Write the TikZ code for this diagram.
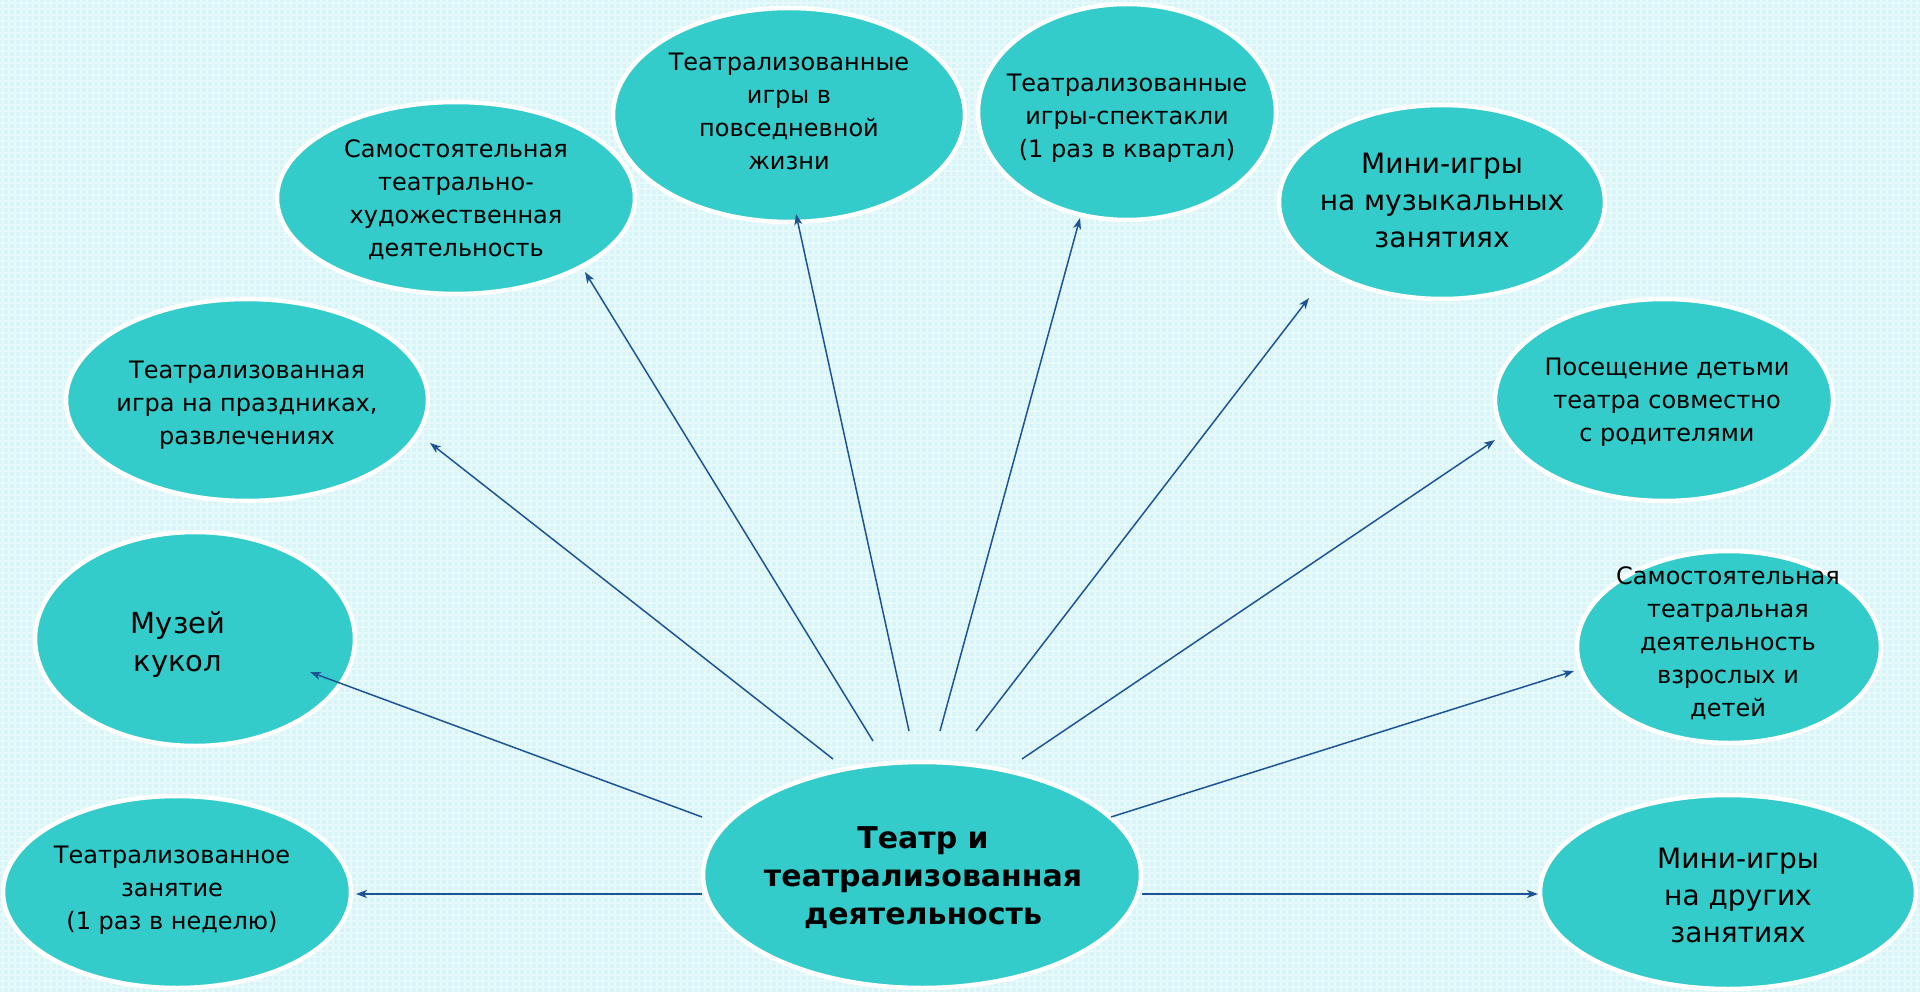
\documentclass[tikz,border=0pt]{standalone}
\usepackage{fontspec}
\setmainfont{DejaVu Sans}
\usetikzlibrary{shapes.geometric,arrows.meta}
\definecolor{bg}{HTML}{D8F4F7}
\definecolor{bgl}{HTML}{E6FAFC}
\definecolor{tq}{HTML}{33CCCA}
\definecolor{arrc}{HTML}{1F5494}
\tikzset{
 bub/.style={ellipse, fill=tq, draw=white, line width=4.5pt, inner sep=0pt},
 txt/.style={align=center, font=\fontsize{24}{33}\selectfont, text=black, inner sep=0pt},
 bigtxt/.style={align=center, font=\fontsize{28}{37}\selectfont, text=black, inner sep=0pt},
 link/.style={draw=arrc, line width=1.5pt, -{Stealth[length=11pt,width=8pt,inset=3pt]}},
 gridline/.style={draw=bgl, line width=1.5pt}
}
\begin{document}
\begin{tikzpicture}[x=1pt,y=-1pt]
\useasboundingbox (0,0) rectangle (1920,992);
\fill[bg] (0,0) rectangle (1920,992);
\foreach \i in {3,9,...,1920} {\draw[gridline] (\i,0) -- (\i,992);}
\foreach \j in {3,9,...,992} {\draw[gridline] (0,\j) -- (1920,\j);}

% outer bubbles
\node[bub, minimum width=348pt, minimum height=192pt] (n2) at (177,892) {};
\node[bub, minimum width=320pt, minimum height=214pt] (n3) at (195,639) {};
\node[bub, minimum width=362pt, minimum height=202pt] (n4) at (247,400) {};
\node[bub, minimum width=358pt, minimum height=192pt] (n5) at (456,198) {};
\node[bub, minimum width=352pt, minimum height=214pt] (n6) at (789,115) {};
\node[bub, minimum width=298pt, minimum height=216pt] (n7) at (1127,112) {};
\node[bub, minimum width=326pt, minimum height=194pt] (n8) at (1442,202) {};
\node[bub, minimum width=338pt, minimum height=202pt] (n9) at (1664,400) {};
\node[bub, minimum width=304pt, minimum height=192pt] (n10) at (1729,647) {};
\node[bub, minimum width=376pt, minimum height=194pt] (n11) at (1728,892) {};
\node[bub, minimum width=438pt, minimum height=226pt] (c) at (922,875) {};

% texts
\node[txt] (t2) at (172,890) {Театрализованное\\занятие\\(1 раз в неделю)};
\node[align=center, font=\fontsize{29}{38}\selectfont, inner sep=0pt] (t3) at (178,644) {Музей\\кукол};
\node[txt] (t4) at (247,405) {Театрализованная\\игра на праздниках,\\развлечениях};
\node[txt] (t5) at (456,200) {Самостоятельная\\театрально-\\художественная\\деятельность};
\node[txt] (t6) at (789,111) {Театрализованные\\игры в\\повседневной\\жизни};
\node[txt] (t7) at (1127,118) {Театрализованные\\игры-спектакли\\(1 раз в квартал)};
\node[bigtxt] (t8) at (1442,200) {Мини-игры\\на музыкальных\\занятиях};
\node[txt] (t9) at (1667,402) {Посещение детьми\\театра совместно\\с родителями};
\node[txt] (t10) at (1728,643) {Самостоятельная\\театральная\\деятельность\\взрослых и\\детей};
\node[bigtxt] (t11) at (1738,895) {Мини-игры\\на других\\занятиях};
\node[align=center, font=\bfseries\fontsize{30}{38}\selectfont, inner sep=0pt] (tc) at (923,878) {Театр и\\театрализованная\\деятельность};

% connector start points near the central bubble
\coordinate (s2) at (702,894);
\coordinate (s3) at (702,817);
\coordinate (s4) at (833,759);
\coordinate (s5) at (873,741);
\coordinate (s6) at (909,731);
\coordinate (s7) at (940,731);
\coordinate (s8) at (976,731);
\coordinate (s9) at (1022,759);
\coordinate (s10) at (1111,817);
\coordinate (s11) at (1142,894);
% arrow tips at the outer bubbles
\coordinate (a2) at (356,894);
\coordinate (a3) at (310,672);
\coordinate (a4) at (430,443);
\coordinate (a5) at (585,272);
\coordinate (a6) at (796,214);
\coordinate (a7) at (1080,218);
\coordinate (a8) at (1309,298);
\coordinate (a9) at (1495,440);
\coordinate (a10) at (1574,671);
\coordinate (a11) at (1538,894);

\draw[link] (s2) -- (a2);
\draw[link] (s3) -- (a3);
\draw[link] (s4) -- (a4);
\draw[link] (s5) -- (a5);
\draw[link] (s6) -- (a6);
\draw[link] (s7) -- (a7);
\draw[link] (s8) -- (a8);
\draw[link] (s9) -- (a9);
\draw[link] (s10) -- (a10);
\draw[link] (s11) -- (a11);
\end{tikzpicture}
\end{document}
